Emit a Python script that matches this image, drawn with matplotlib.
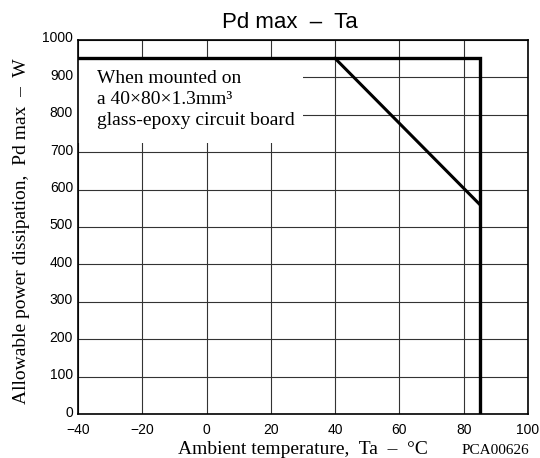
import matplotlib
matplotlib.use("Agg")
import matplotlib.pyplot as plt
import matplotlib.transforms as mtransforms
from matplotlib.patches import Rectangle

# derating curves
ta_limit = [-40, 85, 85]
pd_limit = [950, 950, 0]
ta_board = [40, 85]
pd_board = [950, 560]

x_ticks = [-40, -20, 0, 20, 40, 60, 80, 100]
x_labels = ["\u2212" + "40", "\u2212" + "20", "0", "20", "40", "60", "80", "100"]
y_ticks = [0, 100, 200, 300, 400, 500, 600, 700, 800, 900, 1000]

SERIF = ["Liberation Serif", "DejaVu Serif"]
SANS = ["Liberation Sans", "DejaVu Sans"]

fig = plt.figure(figsize=(5.4, 4.58), dpi=100)
ax = fig.add_axes([0.1444, 0.0955, 0.9778 - 0.1444, 0.9133 - 0.0955])

ax.set_xlim(-40, 100)
ax.set_ylim(0, 1000)
ax.set_xticks(x_ticks)
ax.set_xticklabels(x_labels, family=SANS, fontsize=10)
ax.set_yticks(y_ticks)
ax.set_yticklabels([str(v) for v in y_ticks], family=SANS, fontsize=10)
ax.tick_params(axis="x", length=0, pad=6)
ax.tick_params(axis="y", length=0, pad=3.5)
# y labels sit a little above their grid lines in the original
up = mtransforms.ScaledTranslation(0, 3 / 100, fig.dpi_scale_trans)
for lab in ax.get_yticklabels():
    lab.set_transform(lab.get_transform() + up)
ax.grid(True, color="#333333", lw=0.8, zorder=1)
ax.set_axisbelow(True)
for s in ax.spines.values():
    s.set_linewidth(1.2)
    s.set_zorder(5)

# white panel behind the note
ax.add_patch(Rectangle((-40, 724), 70, 222, facecolor="white", edgecolor="none", zorder=2))
ax.text(-34, 918, "When mounted on\na 40\u00d780\u00d71.3mm\u00b3\nglass-epoxy circuit board",
        family=SERIF, fontsize=14, va="top", ha="left", linespacing=1.3, zorder=3)

ax.plot(ta_limit, pd_limit, color="black", lw=2.4, solid_joinstyle="miter", zorder=4)
ax.plot(ta_board, pd_board, color="black", lw=2.2, zorder=4)

fig.text(290 / 540, 1 - 23 / 458, "Pd max  \u2013  Ta", family=SANS, fontsize=16,
         ha="center", va="center")
fig.text(303 / 540, 1 - 450 / 458, "Ambient temperature,  Ta  \u2013  \u00b0C", family=SERIF,
         fontsize=14, ha="center", va="center")
fig.text(495 / 540, 1 - 450 / 458, "PCA00626", family=SERIF, fontsize=11,
         ha="center", va="center")
fig.text(22 / 540, 1 - 231 / 458, "Allowable power dissipation,  Pd max  \u2013  W", family=SERIF,
         fontsize=14, ha="center", va="center", rotation=90)

fig.savefig("out.png", dpi=100, facecolor="white")
